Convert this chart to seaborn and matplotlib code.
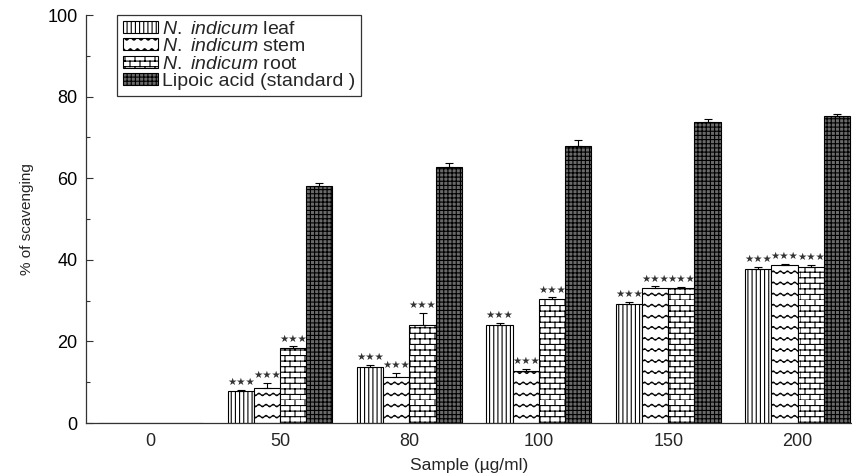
import warnings
warnings.filterwarnings('ignore')
import numpy as np
import pandas as pd
import matplotlib
matplotlib.use('Agg')
import matplotlib.pyplot as plt
import seaborn as sns
from matplotlib import hatch as mhatch
from matplotlib.path import Path
from matplotlib.patches import Patch
from matplotlib.ticker import MultipleLocator

# ---------------- data ----------------
concentrations = ['0', '50', '80', '100', '150', '200']
series_names = ['leaf', 'stem', 'root', 'lipoic']
leaf_vals = [0, 7.8, 13.7, 24.0, 29.2, 37.7]
stem_vals = [0, 8.6, 11.3, 12.8, 33.2, 38.7]
root_vals = [0, 18.4, 24.0, 30.4, 33.0, 38.2]
lipoic_vals = [0, 58.1, 62.8, 67.9, 73.8, 75.3]
leaf_err = [0, 0.3, 0.6, 0.6, 0.5, 0.5]
stem_err = [0, 1.2, 1.0, 0.5, 0.3, 0.3]
root_err = [0, 0.4, 3.0, 0.4, 0.4, 0.5]
lipoic_err = [0, 0.8, 1.0, 1.5, 0.6, 0.4]
significance = ['', '★★★', '★★★', '★★★', '★★★', '★★★']

legend_labels = [r'$\it{N.\ indicum}$ leaf', r'$\it{N.\ indicum}$ stem',
                 r'$\it{N.\ indicum}$ root', 'Lipoic acid (standard )']


# ---------------- custom hatches ----------------
class WavyHatch(mhatch.HatchPatternBase):
    def __init__(self, hatch, density):
        n = hatch.count('w')
        self.num_lines = int(n * 4.5)
        self.periods = 14
        self.pts = self.periods * 8 + 1
        self.num_vertices = self.num_lines * self.pts if n else 0

    def set_vertices_and_codes(self, vertices, codes):
        xs = np.linspace(0, 1, self.pts)
        amp = 0.013
        k = 0
        for i in range(self.num_lines):
            y = (i + 0.5) / self.num_lines + amp * np.sin(2 * np.pi * self.periods * xs)
            vertices[k:k + self.pts, 0] = xs
            vertices[k:k + self.pts, 1] = y
            codes[k] = Path.MOVETO
            codes[k + 1:k + self.pts] = Path.LINETO
            k += self.pts


class BrickHatch(mhatch.HatchPatternBase):
    def __init__(self, hatch, density):
        n = hatch.count('b')
        self.rows = int(n * density)
        if self.rows % 2:
            self.rows += 1
        self.cols = max(1, int(self.rows * 0.6))
        self.num_vertices = (self.rows * 2 + self.rows * self.cols * 2) if n else 0

    def set_vertices_and_codes(self, vertices, codes):
        k = 0
        for i in range(self.rows):
            y = i / self.rows
            vertices[k] = (0, y)
            vertices[k + 1] = (1, y)
            codes[k] = Path.MOVETO
            codes[k + 1] = Path.LINETO
            k += 2
        for i in range(self.rows):
            y0 = i / self.rows
            y1 = (i + 1) / self.rows
            off = 0.5 / self.cols if i % 2 else 0.0
            for j in range(self.cols):
                x = j / self.cols + off
                vertices[k] = (x, y0)
                vertices[k + 1] = (x, y1)
                codes[k] = Path.MOVETO
                codes[k + 1] = Path.LINETO
                k += 2


mhatch._hatch_types.append(WavyHatch)
mhatch._hatch_types.append(BrickHatch)

# ---------------- styling ----------------
sns.set_theme(style='ticks')
plt.rcParams['font.family'] = ['Liberation Sans', 'DejaVu Sans']
plt.rcParams['mathtext.fontset'] = 'custom'
plt.rcParams['mathtext.rm'] = 'Liberation Sans'
plt.rcParams['mathtext.it'] = 'Liberation Sans:italic'
plt.rcParams['hatch.linewidth'] = 0.8

styles = {
    'leaf': dict(facecolor='white', hatch='||||'),
    'stem': dict(facecolor='white', hatch='ww'),
    'root': dict(facecolor='white', hatch='bbb'),
    'lipoic': dict(facecolor='#6a6a6a', hatch='++++'),
}

values = {'leaf': leaf_vals, 'stem': stem_vals, 'root': root_vals, 'lipoic': lipoic_vals}
errors = {'leaf': leaf_err, 'stem': stem_err, 'root': root_err, 'lipoic': lipoic_err}

rows = []
for s in series_names:
    for c, v in zip(concentrations, values[s]):
        rows.append({'conc': c, 'val': v, 'series': s})
df = pd.DataFrame(rows)

fig = plt.figure(figsize=(8.52, 4.74), dpi=100)
ax = fig.add_axes([86 / 852, 51 / 474, (852 - 86) / 852, 408 / 474])

sns.barplot(data=df, x='conc', y='val', hue='series', order=concentrations,
            hue_order=series_names, width=0.81, gap=0, errorbar=None,
            palette=['white'] * 4, edgecolor='black', linewidth=0.8,
            legend=False, ax=ax)

for s, cont in zip(series_names, ax.containers):
    for i, bar in enumerate(cont.patches):
        bar.set_facecolor(styles[s]['facecolor'])
        bar.set_hatch(styles[s]['hatch'])
        bar.set_edgecolor('black')
        xc = bar.get_x() + bar.get_width() / 2
        h = bar.get_height()
        e = errors[s][i]
        if h > 0:
            ax.errorbar(xc, h, yerr=[[0], [e]], fmt='none', ecolor='black',
                        elinewidth=0.8, capsize=3, capthick=0.8)
        if s != 'lipoic' and significance[i]:
            ax.annotate(significance[i], (xc, h + e), xytext=(0, 2),
                        textcoords='offset points', ha='center', va='bottom',
                        fontsize=7.5, color='#333333',
                        family=['DejaVu Sans'])

ax.set_xlim(-0.5, 5.42)
ax.set_ylim(0, 100)
ax.yaxis.set_major_locator(MultipleLocator(20))
ax.yaxis.set_minor_locator(MultipleLocator(10))
ax.tick_params(axis='y', which='major', direction='in', length=5, width=0.8,
               labelsize=13, pad=6, colors='#333333', labelcolor='black')
ax.tick_params(axis='y', which='minor', direction='in', length=3, width=0.8,
               colors='#333333')
ax.tick_params(axis='x', length=0, labelsize=13, pad=7)

for side in ['top', 'right']:
    ax.spines[side].set_visible(False)
for side in ['left', 'bottom']:
    ax.spines[side].set_color('#333333')
    ax.spines[side].set_linewidth(0.9)

ax.set_ylabel('% of scavenging', fontsize=11, labelpad=10)
ax.set_xlabel('Sample (µg/ml)', fontsize=12.5, labelpad=6)

handles = [Patch(facecolor=styles[s]['facecolor'], hatch=styles[s]['hatch'],
                 edgecolor='black', linewidth=0.8) for s in series_names]
leg = ax.legend(handles, legend_labels, loc='upper left',
                bbox_to_anchor=(31 / 766, 1.0), fontsize=14, frameon=True,
                fancybox=False, framealpha=1, edgecolor='#333333',
                handlelength=1.8, handleheight=0.55, handletextpad=0.2,
                labelspacing=0.02, borderpad=0.3, borderaxespad=0)
leg.get_frame().set_linewidth(0.9)

fig.savefig('out.png', dpi=100)
